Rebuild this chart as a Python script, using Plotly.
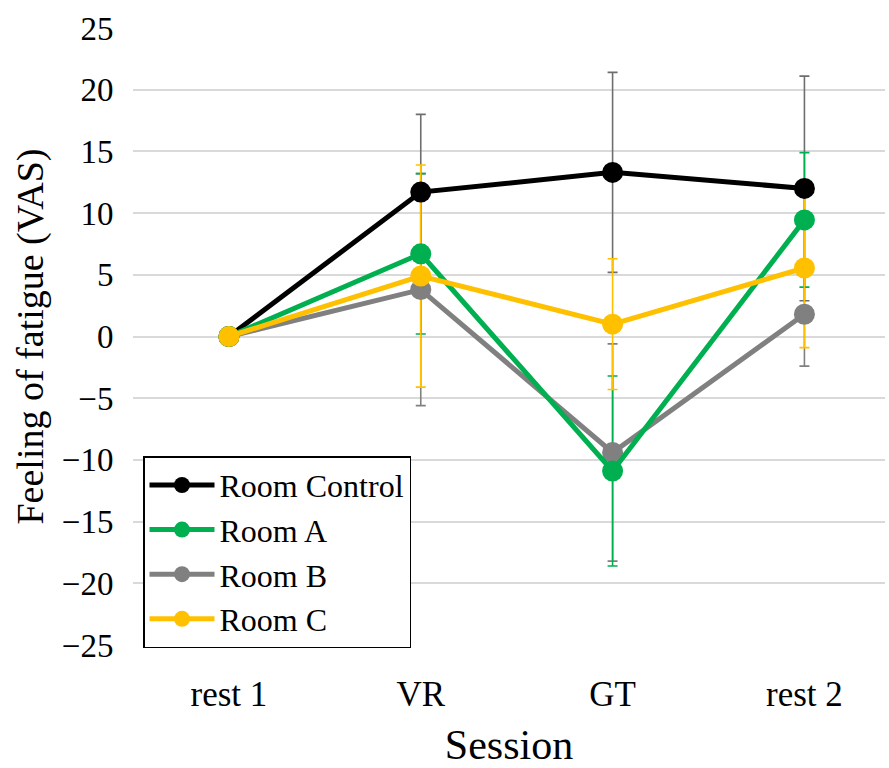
import plotly.graph_objects as go

sessions = ["rest 1", "VR", "GT", "rest 2"]
series_names = ["Room Control", "Room A", "Room B", "Room C"]
control_vals = [0, 11.7, 13.3, 12.0]
control_err = [0, 6.3, 8.1, 9.1]
a_vals = [0, 6.7, -10.9, 9.45]
a_err = [0, 6.5, 7.7, 5.45]
b_vals = [0, 3.8, -9.4, 1.8]
b_err = [0, 9.4, 8.8, 4.2]
c_vals = [0, 4.9, 1.0, 5.55]
c_err = [0, 9.0, 5.3, 6.45]
y_ticks = list(range(-25, 30, 5))

colors = {"Room Control": "#000000", "Room A": "#00B050", "Room B": "#808080", "Room C": "#FFC000"}
err_colors = {"Room Control": "#6e6e6e", "Room A": "#00B050", "Room B": "#808080", "Room C": "#FFC000"}
data = {
    "Room Control": (control_vals, control_err),
    "Room A": (a_vals, a_err),
    "Room B": (b_vals, b_err),
    "Room C": (c_vals, c_err),
}
draw_order = ["Room Control", "Room B", "Room A", "Room C"]
FONT = "Liberation Serif"

fig = go.Figure()
for name in draw_order:
    vals, errs = data[name]
    fig.add_trace(go.Scatter(
        x=sessions, y=vals, mode="markers",
        marker=dict(size=1, opacity=0),
        error_y=dict(type="data", array=errs, visible=True, color=err_colors[name], thickness=1.6, width=5),
        showlegend=False, hoverinfo="skip",
    ))
for name in draw_order:
    vals, errs = data[name]
    fig.add_trace(go.Scatter(
        x=sessions, y=vals, mode="lines+markers", name=name,
        line=dict(color=colors[name], width=5),
        marker=dict(color=colors[name], size=21),
        legendgroup=name, legendrank=series_names.index(name) + 1,
    ))

fig.update_layout(
    width=889, height=768,
    margin=dict(l=133, r=4, t=28, b=123),
    paper_bgcolor="white", plot_bgcolor="white",
    font=dict(family=FONT, size=32, color="black"),
    showlegend=True,
    legend=dict(
        x=0.0133, y=0.306, xanchor="left", yanchor="top",
        bgcolor="white", bordercolor="black", borderwidth=1.5,
        font=dict(family=FONT, size=32, color="black"),
        traceorder="grouped", tracegroupgap=0, itemwidth=65,
    ),
    xaxis=dict(
        type="category", categoryorder="array", categoryarray=sessions,
        range=[-0.5, 3.42], showgrid=False, zeroline=False, showline=False,
        automargin=False,
        ticks="outside", ticklen=18, tickcolor="rgba(0,0,0,0)",
        tickfont=dict(family=FONT, size=35, color="black"),
        title=dict(text="Session", font=dict(family=FONT, size=42, color="black"), standoff=29),
    ),
    yaxis=dict(
        range=[-25, 25], tickvals=y_ticks,
        showgrid=True, gridcolor="#d9d9d9", gridwidth=1.5,
        zeroline=False, showline=False,
        automargin=False,
        ticks="outside", ticklen=12, tickcolor="rgba(0,0,0,0)",
        tickfont=dict(family=FONT, size=33, color="black"),
        title=dict(text="Feeling of fatigue (VAS)", font=dict(family=FONT, size=38, color="black"), standoff=6),
    ),
)

fig.write_html("out.html")
